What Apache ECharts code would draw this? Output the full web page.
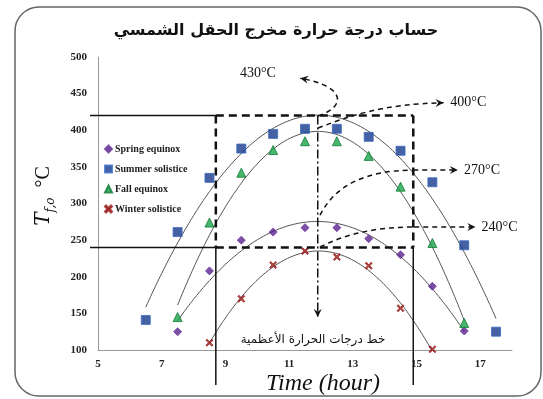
<!DOCTYPE html>
<html>
<head>
<meta charset="utf-8">
<script src="https://cdn.jsdelivr.net/npm/echarts@6/dist/echarts.min.js"></script>
<style>
html,body{margin:0;padding:0;background:#fff;}
#main{width:543px;height:399px;}
</style>
</head>
<body>
<div id="main"></div>
<script>
// hours and outlet temperatures
var springX = [7.5, 8.5, 9.5, 10.5, 11.5, 12.5, 13.5, 14.5, 15.5, 16.5];
var springY = [125, 208, 250, 261, 267, 267, 252, 230, 187, 126];
var summerX = [6.5, 7.5, 8.5, 9.5, 10.5, 11.5, 12.5, 13.5, 14.5, 15.5, 16.5, 17.5];
var summerY = [141, 261, 335, 375, 395, 402, 402, 391, 372, 329, 243, 125];
var fallX = [7.5, 8.5, 9.5, 10.5, 11.5, 12.5, 13.5, 14.5, 15.5, 16.5];
var fallY = [145, 274, 342, 373, 385, 385, 365, 323, 246, 137];
var winterX = [8.5, 9.5, 10.5, 11.5, 12.5, 13.5, 14.5, 15.5];
var winterY = [110, 170, 216, 235, 227, 215, 157, 101];

var seriesNames = ['Spring equinox', 'Summer solistice', 'Fall equinox', 'Winter solistice'];
var xTickLabels = [5, 7, 9, 11, 13, 15, 17];
var peakLabels = ['430°C', '400°C', '270°C', '240°C'];
var titleText = 'حساب درجة حرارة مخرج الحقل الشمسي';
var maxLineText = 'خط درجات الحرارة الأعظمية';

function pairs(xs, ys){
	return xs.map(function(x, i){ return [x, ys[i]]; });
}

// excel style 2nd order polynomial trendline (least squares)
function quadFit(xs, ys){
	var n = xs.length, s1=0, s2=0, s3=0, s4=0, t0=0, t1=0, t2=0;
	for(var i=0;i<n;i++){
		var x = xs[i], y = ys[i];
		s1 += x; s2 += x*x; s3 += x*x*x; s4 += x*x*x*x;
		t0 += y; t1 += x*y; t2 += x*x*y;
	}
	var m = [[n, s1, s2],[s1, s2, s3],[s2, s3, s4]], r = [t0, t1, t2];
	function det(a){
		return a[0][0]*(a[1][1]*a[2][2]-a[1][2]*a[2][1])
			- a[0][1]*(a[1][0]*a[2][2]-a[1][2]*a[2][0])
			+ a[0][2]*(a[1][0]*a[2][1]-a[1][1]*a[2][0]);
	}
	var d = det(m), coef = [];
	for(var k=0;k<3;k++){
		var mk = m.map(function(row, i){ var c = row.slice(); c[k] = r[i]; return c; });
		coef.push(det(mk)/d);
	}
	return coef;
}
function trend(xs, ys){
	var c = quadFit(xs, ys), out = [];
	var x0 = xs[0], x1 = xs[xs.length-1];
	for(var x = x0; x <= x1 + 1e-9; x += 0.05){
		out.push([x, c[0] + c[1]*x + c[2]*x*x]);
	}
	return out;
}

var crossPath = 'path://M0,1.5 L1.5,0 L5,3.5 L8.5,0 L10,1.5 L6.5,5 L10,8.5 L8.5,10 L5,6.5 L1.5,10 L0,8.5 L3.5,5 Z';
var serifFont = '"Liberation Serif", "DejaVu Serif", serif';

function scatter(name, xs, ys, symbol, size, color, border){
	return {
		name: name,
		type: 'scatter',
		data: pairs(xs, ys),
		symbol: symbol,
		symbolSize: size,
		z: 5,
		itemStyle: { color: color, borderColor: border, borderWidth: 1 }
	};
}
function trendSeries(xs, ys){
	return {
		type: 'line',
		data: trend(xs, ys),
		showSymbol: false,
		silent: true,
		z: 3,
		lineStyle: { color: '#555', width: 1 }
	};
}

var chart = echarts.init(document.getElementById('main'));

chart.setOption({
	animation: false,
	backgroundColor: '#fff',
	grid: { left: 98, right: 31, top: 57, bottom: 49 },
	legend: {
		data: seriesNames,
		orient: 'vertical',
		left: 104,
		top: 143,
		itemGap: 8,
		itemWidth: 7,
		itemHeight: 7,
		padding: 0,
		textStyle: { fontFamily: serifFont, fontWeight: 'bold', fontSize: 10, color: '#222', lineHeight: 12, padding: [0, 0, 0, -2] }
	},
	xAxis: {
		type: 'value',
		min: 5,
		max: 18,
		splitLine: { show: false },
		axisTick: { show: false },
		axisLine: { lineStyle: { color: '#999', width: 1 } },
		axisLabel: {
			customValues: xTickLabels,
			margin: 9,
			fontFamily: serifFont,
			fontWeight: 'bold',
			fontSize: 11,
			color: '#222'
		}
	},
	yAxis: {
		type: 'value',
		min: 100,
		max: 500,
		interval: 50,
		splitLine: { show: false },
		axisTick: { show: false },
		axisLine: { show: true, lineStyle: { color: '#999', width: 1 } },
		axisLabel: {
			margin: 11,
			fontFamily: serifFont,
			fontWeight: 'bold',
			fontSize: 11,
			color: '#222'
		}
	},
	series: [
		scatter(seriesNames[0], springX, springY, 'diamond', 8, '#5b2290', '#6b3a9c'),
		scatter(seriesNames[1], summerX, summerY, 'rect', 9, '#17398c', '#3a6cc0'),
		scatter(seriesNames[2], fallX, fallY, 'triangle', 9, '#18a548', '#0f7a35'),
		scatter(seriesNames[3], winterX, winterY, crossPath, 7, '#9b1c1c', '#9b1c1c'),
		trendSeries(springX, springY),
		trendSeries(summerX, summerY),
		trendSeries(fallX, fallY),
		trendSeries(winterX, winterY)
	]
});

// annotation overlay (box, max line, arrows), placed through the grid's own scale
function P(x, y){ return chart.convertToPixel({gridIndex: 0}, [x, y]); }

var boxL = 8.7, boxR = 14.9, boxTop = 420, boxBot = 240, peakX = 11.9;
var g = [];
var dashStyle = { stroke: '#111', lineWidth: 2.5, lineDash: [8, 5], fill: null };
var thin = { stroke: '#111', lineWidth: 1.5, fill: null };
var arrowDash = { stroke: '#111', lineWidth: 1.5, lineDash: [5, 4], fill: null };

function line(a, b, style){
	g.push({ type: 'line', z: 10, shape: { x1: a[0], y1: a[1], x2: b[0], y2: b[1] }, style: style });
}
function head(tip, from){
	var ang = Math.atan2(tip[1]-from[1], tip[0]-from[0]), L = 8, W = 4;
	var bx = tip[0] - L*Math.cos(ang), by = tip[1] - L*Math.sin(ang);
	g.push({ type: 'polygon', z: 10, shape: { points: [
		tip,
		[bx + W*Math.sin(ang), by - W*Math.cos(ang)],
		[bx + 0.35*L*Math.cos(ang), by + 0.35*L*Math.sin(ang)],
		[bx - W*Math.sin(ang), by + W*Math.cos(ang)]
	] }, style: { fill: '#111' } });
}
function curve(pts){
	var a = P(pts[0][0], pts[0][1]), c1 = P(pts[1][0], pts[1][1]), c2 = P(pts[2][0], pts[2][1]), b = P(pts[3][0], pts[3][1]);
	g.push({ type: 'bezierCurve', z: 10, shape: { x1: a[0], y1: a[1], cpx1: c1[0], cpy1: c1[1], cpx2: c2[0], cpy2: c2[1], x2: b[0], y2: b[1] }, style: arrowDash });
	return [c2, b];
}
function label(txt, p, align){
	g.push({ type: 'text', z: 10, x: p[0], y: p[1], style: { text: txt, fontFamily: serifFont, fontSize: 14, fill: '#111', align: align || 'left', verticalAlign: 'middle' } });
}

var tl = P(boxL, boxTop), tr = P(boxR, boxTop), bl = P(boxL, boxBot), br = P(boxR, boxBot);
var axisLeft = P(5, 100)[0], axisBottom = P(5, 100)[1];

// solid reference lines
line([axisLeft - 8, tl[1]], tl, thin);
line([axisLeft - 8, bl[1]], bl, thin);
line(bl, [bl[0], axisBottom + 35], thin);
line(br, [br[0], axisBottom + 35], thin);
// dashed box
line(tl, tr, dashStyle);
line(bl, br, dashStyle);
line(tl, bl, dashStyle);
line(tr, br, dashStyle);
// dash-dot max temperature line with arrow
var pk0 = P(peakX, boxTop), pk1 = P(peakX, 145);
line(pk0, pk1, { stroke: '#111', lineWidth: 1.5, lineDash: [9, 3, 2, 3], fill: null });
head(pk1, pk0);

// curved arrows to the peak labels
var e1 = curve([[11.91, 419.5], [12.8, 432], [12.8, 460], [11.35, 471]]);
head(e1[1], e1[0]);
var e2 = curve([[11.91, 403], [12.8, 418], [13.9, 436], [15.85, 437.5]]);
head(e2[1], e2[0]);
var e3 = curve([[11.97, 284], [12.45, 325], [13.4, 345], [14.9, 345.7]]);
var e3b = P(16.3, 345.7);
line(e3[1], e3b, arrowDash);
head(e3b, e3[1]);
var e4 = curve([[11.97, 240.6], [12.9, 261], [13.9, 268], [14.93, 268]]);
var e4b = P(16.85, 268);
line(e4[1], e4b, arrowDash);
head(e4b, e4[1]);

label(peakLabels[0], [240, 73]);
label(peakLabels[1], [P(16.0, 0)[0] + 2, P(0, 437.5)[1]]);
label(peakLabels[2], [P(16.4, 0)[0] + 3, P(0, 345.7)[1]]);
label(peakLabels[3], [P(16.95, 0)[0] + 3, P(0, 268)[1]]);

// arabic caption of the max line
g.push({ type: 'text', z: 10, x: 313, y: 340, style: { text: maxLineText, fontFamily: '"DejaVu Sans", sans-serif', fontSize: 12, fill: '#111', align: 'center', verticalAlign: 'middle' } });

// title
g.push({ type: 'text', z: 10, x: 276, y: 31, style: { text: titleText, fontFamily: '"DejaVu Sans", sans-serif', fontWeight: 'bold', fontSize: 16, fill: '#111', align: 'center', verticalAlign: 'middle' } });

// axis names
g.push({ type: 'text', z: 10, x: 323, y: 384, style: { text: 'Time (hour)', fontFamily: serifFont, fontStyle: 'italic', fontSize: 24, fill: '#111', align: 'center', verticalAlign: 'middle' } });
g.push({ type: 'text', z: 10, x: 42, y: 196, rotation: Math.PI / 2, style: {
	text: '{t|T}{s|f,o}   {c|°C}',
	align: 'center', verticalAlign: 'middle',
	rich: {
		t: { fontFamily: '"DejaVu Serif", serif', fontStyle: 'italic', fontSize: 20, fill: '#111', lineHeight: 24, verticalAlign: 'bottom' },
		s: { fontFamily: '"DejaVu Serif", serif', fontStyle: 'italic', fontSize: 12, fill: '#111', lineHeight: 24, verticalAlign: 'bottom', padding: [0, 0, -3, 0] },
		c: { fontFamily: serifFont, fontSize: 20, fill: '#111', lineHeight: 24, verticalAlign: 'bottom' }
	}
} });

// rounded frame
g.push({ type: 'rect', z: 1, shape: { x: 15, y: 7, width: 526, height: 389, r: 24 }, style: { fill: null, stroke: '#666', lineWidth: 1.5 } });

chart.setOption({ graphic: g });
</script>
</body>
</html>
